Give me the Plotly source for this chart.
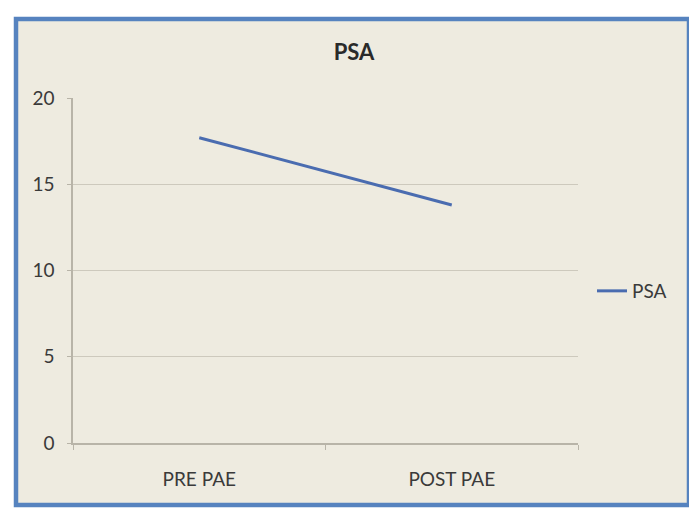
import plotly.graph_objects as go

categories = ["PRE PAE", "POST PAE"]
psa_values = [17.7, 13.8]
y_ticks = [0, 5, 10, 15, 20]

# page body adds an 8px offset; work in screen pixels and compensate
OFF = 8
W, H = 697 - OFF, 512 - OFF
PL, PR, PT, PB = 73, 578, 98, 443  # plot area in screen pixels
L, R, T, B = PL - OFF, W - (PR - OFF), PT - OFF, H - (PB - OFF)
pw, ph = PR - PL, PB - PT

def px_x(p):
    return (p - PL) / pw

def px_y(p):
    return (PB - p) / ph

fig = go.Figure()
fig.add_trace(go.Scatter(
    x=categories, y=psa_values, mode="lines", name="PSA",
    line=dict(color="#4a6cb0", width=3),
))

fig.add_shape(
    type="rect", xref="paper", yref="paper", layer="below",
    x0=px_x(16), x1=px_x(689), y0=px_y(505), y1=px_y(19),
    fillcolor="#eeebe0", line=dict(color="#5683bf", width=4.5),
)

fig.update_layout(
    width=W, height=H,
    margin=dict(l=L, r=R, t=T, b=B),
    paper_bgcolor="white",
    plot_bgcolor="rgba(0,0,0,0)",
    font=dict(family="Lato, Arial, sans-serif", color="#3a3a3a", size=18),
    title=dict(text="<b>PSA</b>", x=px_x(354), xref="paper", xanchor="center",
               y=1 - (52 - OFF) / H, yanchor="middle", font=dict(size=22, color="#2a2a2a")),
    showlegend=True,
    legend=dict(x=px_x(592), y=px_y(291), xanchor="left", yanchor="middle",
                bgcolor="rgba(0,0,0,0)", font=dict(size=19, color="#3a3a3a"),
                itemwidth=30),
    xaxis=dict(
        type="category", range=[-0.5, 1.5], showgrid=False,
        showline=True, linecolor="#b8b4a8", linewidth=1.5,
        ticks="outside", tickson="boundaries", ticklen=5, tickcolor="#b8b4a8",
        ticklabelstandoff=18, tickfont=dict(size=19, color="#3a3a3a"),
    ),
    yaxis=dict(
        range=[0, 20], tickvals=y_ticks, showgrid=True, gridcolor="#cdc9bd",
        gridwidth=1.2, zeroline=False,
        showline=True, linecolor="#b8b4a8", linewidth=1.5,
        ticks="outside", ticklen=4, tickcolor="#b8b4a8",
        ticklabelstandoff=9, tickfont=dict(size=19, color="#3a3a3a"),
    ),
)

fig.write_html("out.html")
